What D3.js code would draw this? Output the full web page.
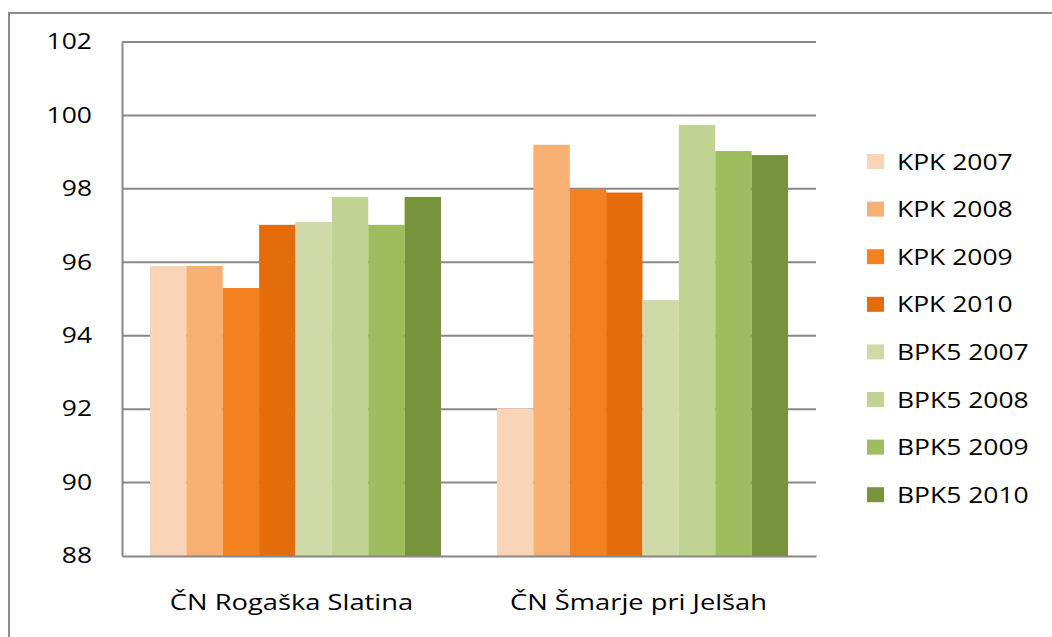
<!DOCTYPE html>
<html>
<head>
<meta charset="utf-8">
<script src="https://cdn.jsdelivr.net/npm/d3@7"></script>
<style>
  body { margin: 0; background: #fff; }
  text { font-family: "Open Sans", sans-serif; fill: #000; }
</style>
</head>
<body>
<div id="chart"></div>
<script>
'use strict';
// data
const categories = ['ČN Rogaška Slatina', 'ČN Šmarje pri Jelšah'];
const seriesNames = ['KPK 2007', 'KPK 2008', 'KPK 2009', 'KPK 2010',
                     'BPK5 2007', 'BPK5 2008', 'BPK5 2009', 'BPK5 2010'];
const rogaskaValues = [95.9, 95.9, 95.3, 97.02, 97.1, 97.78, 97.02, 97.78];
const smarjeValues = [92.02, 99.2, 98.0, 97.9, 94.97, 99.74, 99.03, 98.92];
const seriesColors = ['#fad4b7', '#f7af72', '#f38120', '#e46c0a',
                      '#cfdaa8', '#c1d392', '#9fbc5e', '#77933c'];
const yTicks = [88, 90, 92, 94, 96, 98, 100, 102];

const valuesByCat = [rogaskaValues, smarjeValues];

const W = 1052, H = 637;
const margin = {top: 42, right: 236, bottom: 81, left: 122};
const width = W - margin.left - margin.right;
const height = H - margin.top - margin.bottom;

const svg = d3.select('#chart').append('svg')
    .attr('width', W)
    .attr('height', H);

// outer chart frame (runs off the right and bottom edge)
svg.append('rect')
    .attr('x', 9).attr('y', 13)
    .attr('width', 1200).attr('height', 800)
    .attr('fill', 'none')
    .attr('stroke', '#8c8c8c')
    .attr('stroke-width', 2);

const g = svg.append('g')
    .attr('transform', 'translate(' + margin.left + ',' + margin.top + ')');

const x0 = d3.scaleBand().domain(categories).range([0, width]).paddingInner(0).paddingOuter(0);
const groupPad = 28;
const x1 = d3.scaleBand().domain(seriesNames)
    .range([groupPad, x0.bandwidth() - groupPad]);
const y = d3.scaleLinear().domain([88, 102]).range([height, 0]);
const color = d3.scaleOrdinal().domain(seriesNames).range(seriesColors);

// stretch text horizontally to match the wide original face
function stretch(sel, k) {
    sel.each(function () {
        const len = this.getComputedTextLength();
        d3.select(this).attr('textLength', len * k).attr('lengthAdjust', 'spacingAndGlyphs');
    });
}
const K = 1.26;

// gridlines
g.append('g').selectAll('line').data(yTicks.filter(d => d > 88)).enter()
    .append('line')
    .attr('x1', 0).attr('x2', width)
    .attr('y1', d => y(d)).attr('y2', d => y(d))
    .attr('stroke', '#888')
    .attr('stroke-width', 2);

// bars
const groups = g.selectAll('.grp').data(categories).enter()
    .append('g')
    .attr('class', 'grp')
    .attr('transform', d => 'translate(' + x0(d) + ',0)');

groups.selectAll('rect')
    .data((c, i) => seriesNames.map((s, j) => ({s: s, v: valuesByCat[i][j]})))
    .enter().append('rect')
    .attr('x', d => x1(d.s))
    .attr('y', d => y(d.v))
    .attr('width', x1.bandwidth())
    .attr('height', d => y(88) - y(d.v))
    .attr('fill', d => color(d.s));

// axes
const yAxis = g.append('g')
    .call(d3.axisLeft(y).tickValues(yTicks).tickSize(0).tickPadding(30));
yAxis.select('.domain').attr('stroke', '#888').attr('stroke-width', 2);
yAxis.selectAll('text')
    .style('font-family', '"Open Sans", sans-serif')
    .attr('font-size', 21)
    .attr('fill', '#000')
    .call(stretch, K);

const xAxis = g.append('g')
    .attr('transform', 'translate(0,' + height + ')')
    .call(d3.axisBottom(x0).tickSize(0).tickPadding(39));
xAxis.select('.domain').attr('stroke', '#888').attr('stroke-width', 2);
xAxis.selectAll('text')
    .style('font-family', '"Open Sans", sans-serif')
    .attr('font-size', 21)
    .attr('fill', '#000')
    .attr('dx', -4)
    .call(stretch, 1.3);

// legend
const legend = svg.append('g').attr('transform', 'translate(867,162)');
const item = legend.selectAll('g').data(seriesNames).enter()
    .append('g')
    .attr('transform', (d, i) => 'translate(0,' + i * 47.6 + ')');
item.append('rect')
    .attr('x', 0).attr('y', -8)
    .attr('width', 17).attr('height', 15)
    .attr('fill', d => color(d));
item.append('text')
    .attr('x', 30).attr('y', 0)
    .attr('dy', '0.36em')
    .attr('font-size', 21)
    .text(d => d)
    .call(stretch, K);
</script>
</body>
</html>
